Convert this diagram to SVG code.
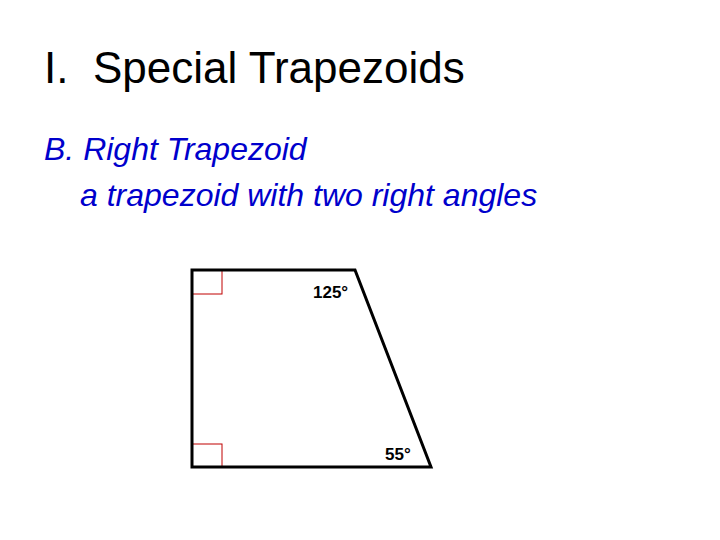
<svg xmlns="http://www.w3.org/2000/svg" width="720" height="540" viewBox="0 0 720 540">
<style>
.title{font-family:"Liberation Sans",Arial,sans-serif;font-size:44px;fill:#000}
.sub{font-family:"Liberation Sans",Arial,sans-serif;font-style:italic;font-size:32px;fill:#0000cc}
.ang{font-family:"Liberation Sans",Arial,sans-serif;font-weight:bold;font-size:17px;fill:#000}
.ra{fill:none;stroke:#c00000;stroke-width:1}
</style>
<rect width="720" height="540" fill="#fff"/>
<text class="title" x="44" y="83" xml:space="preserve">I.  Special Trapezoids</text>
<text class="sub" x="44" y="160">B. Right Trapezoid</text>
<text class="sub" x="80" y="206">a trapezoid with two right angles</text>
<g id="trapezoid">
<rect class="ra" x="192" y="270" width="30" height="24"/>
<rect class="ra" x="192" y="444" width="30" height="23"/>
<polygon points="192,270 355,270 431,467 192,467" fill="none" stroke="#000" stroke-width="3" stroke-linejoin="miter"/>
<text class="ang" x="313" y="298">125°</text>
<text class="ang" x="385" y="460">55°</text>
</g>
</svg>
